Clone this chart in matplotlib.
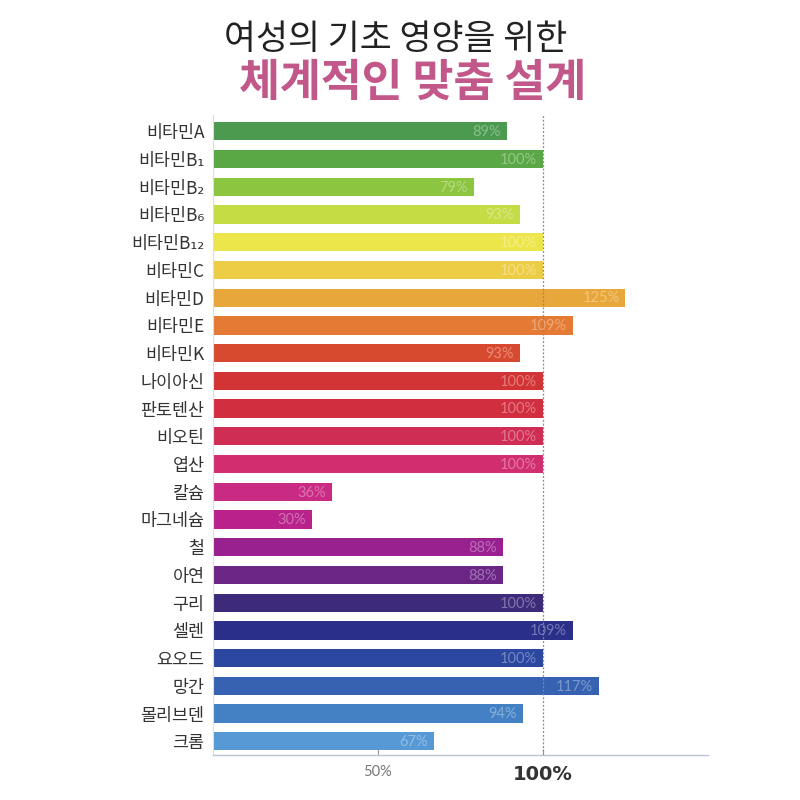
import matplotlib
matplotlib.use("Agg")
import matplotlib.pyplot as plt
import matplotlib.colors as mcolors
import numpy as np

plt.rcParams['font.family'] = ['Noto Sans CJK KR', 'DejaVu Sans']

categories = ["비타민A", "비타민B₁", "비타민B₂", "비타민B₆", "비타민B₁₂", "비타민C", "비타민D",
              "비타민E", "비타민K", "나이아신", "판토텐산", "비오틴", "엽산", "칼슘", "마그네슘",
              "철", "아연", "구리", "셀렌", "요오드", "망간", "몰리브덴", "크롬"]
values = [89, 100, 79, 93, 100, 100, 125, 109, 93, 100, 100, 100, 100, 36, 30,
          88, 88, 100, 109, 100, 117, 94, 67]
bar_colors = ["#4b9a4f", "#5aa746", "#8cc53f", "#c5dc45", "#ece64b", "#edcd45", "#e8a73a",
              "#e47a33", "#d84a30", "#d23436", "#d12f40", "#cf2d54", "#d12e70", "#c92a84",
              "#b8228a", "#98208f", "#6a2585", "#3d2a7a", "#2a2f8a", "#2c47a0", "#3662b1",
              "#4381c4", "#5699d5"]
title1 = "여성의 기초 영양을 위한"
title2 = "체계적인 맞춤 설계"
tick_vals = [50, 100]
tick_labels = ["50%", "100%"]

fig = plt.figure(figsize=(8, 8), dpi=100)
ax = fig.add_axes([0.266, 0.056, 0.619, 0.80])

y = np.arange(len(categories))
ax.barh(y, values, height=0.66, color=bar_colors, edgecolor='none', zorder=2)

for yi, v, c in zip(y, values, bar_colors):
    rgb = np.array(mcolors.to_rgb(c))
    lc = rgb + (1 - rgb) * 0.35
    ax.text(v - 1.8, yi + 0.03, f"{v}%", ha='right', va='center', fontsize=10.5,
            color=lc, family=['Lato', 'DejaVu Sans'], zorder=3)

ax.axvline(100, color='#888888', linestyle=(0, (1.5, 1.5)), linewidth=0.9, zorder=3)

ax.set_xlim(0, 150)
ax.set_ylim(22.5, -0.58)
ax.set_yticks(y)
ax.set_yticklabels(categories, fontsize=12.5, color='#333333')
ax.tick_params(axis='y', length=0, pad=6)

ax.set_xticks(tick_vals)
ax.set_xticklabels(tick_labels)
ax.tick_params(axis='x', length=4, width=0.8, color='#999999', direction='in', pad=7)
xl = ax.get_xticklabels()
xl[0].set_fontsize(10.5); xl[0].set_color('#777777'); xl[0].set_family(['Lato', 'DejaVu Sans'])
xl[1].set_fontsize(14); xl[1].set_color('#333333'); xl[1].set_fontweight('bold'); xl[1].set_family(['DejaVu Sans'])

for s in ['top', 'right']:
    ax.spines[s].set_visible(False)
ax.spines['left'].set_color('#dddddd')
ax.spines['left'].set_linewidth(0.8)
ax.spines['bottom'].set_color('#b8c4d8')
ax.spines['bottom'].set_linewidth(1.0)

fig.text(0.495, 0.950, title1, ha='center', va='center', fontsize=25, color='#222222')
fig.text(0.516, 0.897, title2, ha='center', va='center', fontsize=32, color='#c2578a',
         fontweight='heavy')

fig.savefig("out.png", dpi=100, facecolor='white')
